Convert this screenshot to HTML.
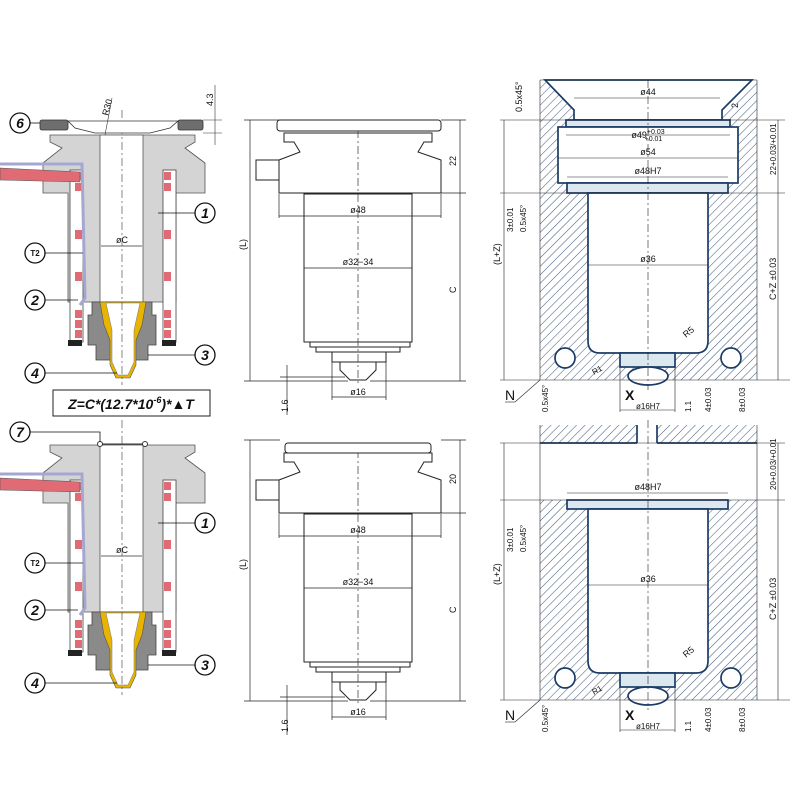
<!DOCTYPE html>
<html><head><meta charset="utf-8"><style>
html,body{margin:0;padding:0;background:#fff}
svg{display:block}
text{font-family:"Liberation Sans",sans-serif;fill:#111}
</style></head><body>
<svg width="800" height="800" viewBox="0 0 800 800" xmlns="http://www.w3.org/2000/svg">
<defs>
<pattern id="h" width="6" height="6" patternUnits="userSpaceOnUse" patternTransform="rotate(45)">
<line x1="0" y1="0" x2="0" y2="6" stroke="#4a6080" stroke-width="1.1"/>
</pattern>
<g id="Lbody">
<path d="M50,135 H195 V142 L185,148 L205,163 V193 H176 V302 H68 V193 H43 V163 L62,148 L50,142 Z" fill="#d4d4d4" stroke="#555" stroke-width="0.8"/>
<rect x="100" y="135" width="43" height="167" fill="#fff" stroke="#555" stroke-width="0.8"/>
<rect x="70" y="170" width="13" height="172" fill="#fff" stroke="#444" stroke-width="0.8"/>
<rect x="163" y="170" width="13" height="172" fill="#fff" stroke="#444" stroke-width="0.8"/>
<g fill="#e06b75">
<rect x="75" y="172" width="7" height="8"/><rect x="75" y="183" width="7" height="8"/><rect x="75" y="230" width="7" height="9"/><rect x="75" y="272" width="7" height="9"/><rect x="75" y="310" width="7" height="8"/><rect x="75" y="320" width="7" height="8"/><rect x="75" y="330" width="7" height="8"/>
<rect x="164" y="172" width="7" height="8"/><rect x="164" y="183" width="7" height="8"/><rect x="164" y="230" width="7" height="9"/><rect x="164" y="272" width="7" height="9"/><rect x="164" y="310" width="7" height="8"/><rect x="164" y="320" width="7" height="8"/><rect x="164" y="330" width="7" height="8"/>
</g>
<polygon points="0,168 80,172 80,182 0,180" fill="#e06b75" stroke="#555" stroke-width="0.6"/>
<polyline points="0,164 82,164 85,298 80,305" fill="none" stroke="#a6a6d2" stroke-width="3"/>
<path d="M92,302 H152 V315 H156 V345 H148 V360 H96 V345 H88 V315 H92 Z" fill="#8a8a8a" stroke="#444" stroke-width="0.8"/>
<rect x="68" y="340" width="14" height="6" fill="#222"/><rect x="162" y="340" width="14" height="6" fill="#222"/>
<path d="M100,302 H146 L142,325 L136,340 L136,365 L130,378 H116 L110,365 L110,340 L104,325 Z" fill="#e8b400" stroke="#555" stroke-width="0.6"/>
<path d="M106,303 H140 L134,330 V362 L128,375 H118 L112,362 V330 Z" fill="#fff" stroke="#777" stroke-width="0.5"/>
<line x1="122" y1="110" x2="122" y2="385" stroke="#555" stroke-width="0.7" stroke-dasharray="8,3,2,3"/>
<line x1="101" y1="246" x2="142" y2="246" stroke="#333" stroke-width="0.7"/>
<g fill="#fff" stroke="#111" stroke-width="1.3">
<circle cx="205" cy="213" r="10"/><circle cx="35" cy="253" r="10"/><circle cx="35" cy="300" r="10"/><circle cx="205" cy="355" r="10"/><circle cx="35" cy="373" r="10"/>
</g>
<g stroke="#111" stroke-width="0.8">
<line x1="158" y1="213" x2="195" y2="213"/><line x1="45" y1="253" x2="83" y2="253"/><line x1="45" y1="300" x2="78" y2="300"/><line x1="148" y1="355" x2="195" y2="355"/><line x1="45" y1="373" x2="117" y2="373"/>
</g>
</g>
<g id="Mbody" fill="#fff" stroke="#222" stroke-width="1">
<path d="M284,133 H432 V142 L424,142 L418,152 L441,160 V193 H279 V160 L300,152 L294,142 H284 Z"/>
<rect x="256" y="160" width="23" height="20"/>
<rect x="304" y="194" width="108" height="148"/>
<rect x="310" y="342" width="100" height="5"/>
<rect x="316" y="347" width="84" height="5"/>
<rect x="332" y="352" width="54" height="10"/>
<path d="M340,362 H376 V370 L366,380 H350 L340,370 Z"/>
<line x1="358" y1="130" x2="358" y2="385" stroke="#333" stroke-width="0.7" stroke-dasharray="8,3,2,3"/>
<g stroke-width="0.7">
<line x1="250" y1="120" x2="250" y2="381"/><line x1="244" y1="120" x2="280" y2="120"/><line x1="244" y1="381" x2="348" y2="381"/>
<line x1="460" y1="120" x2="460" y2="381"/><line x1="441" y1="120" x2="466" y2="120"/><line x1="441" y1="193" x2="466" y2="193"/><line x1="370" y1="381" x2="466" y2="381"/>
<line x1="279" y1="194" x2="279" y2="218"/><line x1="441" y1="194" x2="441" y2="218"/>
<line x1="279" y1="216" x2="441" y2="216"/><line x1="304" y1="268" x2="412" y2="268"/>
<line x1="332" y1="362" x2="332" y2="400"/><line x1="386" y1="362" x2="386" y2="400"/><line x1="332" y1="397" x2="386" y2="397"/>
<line x1="287" y1="365" x2="287" y2="415"/><line x1="280" y1="377" x2="345" y2="377"/>
</g>
</g>
</defs>

<!-- LEFT TOP -->
<use href="#Lbody"/>
<rect x="40" y="120" width="28" height="10" rx="2" fill="#6e6e6e" stroke="#333" stroke-width="0.8"/>
<rect x="178" y="120" width="25" height="10" rx="2" fill="#6e6e6e" stroke="#333" stroke-width="0.8"/>
<path d="M68,121 H178 L170,128 L150,133 H95 L75,128 Z" fill="#fff" stroke="#333" stroke-width="0.8"/>
<circle cx="20" cy="123" r="10" fill="#fff" stroke="#111" stroke-width="1.3"/>
<line x1="30" y1="123" x2="40" y2="123" stroke="#111" stroke-width="0.8"/>
<line x1="105" y1="135" x2="112" y2="98" stroke="#333" stroke-width="0.6"/>
<text x="108" y="116" font-size="9" transform="rotate(-75 108 116)">R30</text>
<line x1="203" y1="120" x2="222" y2="120" stroke="#333" stroke-width="0.6"/>
<line x1="203" y1="133" x2="222" y2="133" stroke="#333" stroke-width="0.6"/>
<line x1="215" y1="85" x2="215" y2="145" stroke="#333" stroke-width="0.6"/>
<text x="213" y="106" font-size="9" transform="rotate(-90 213 106)">4.3</text>
<text x="20" y="128" font-size="14" font-weight="bold" font-style="italic" text-anchor="middle">6</text>
<text x="205" y="218" font-size="14" font-weight="bold" font-style="italic" text-anchor="middle">1</text>
<text x="35" y="256" font-size="8" font-weight="bold" text-anchor="middle">T2</text>
<text x="35" y="305" font-size="14" font-weight="bold" font-style="italic" text-anchor="middle">2</text>
<text x="205" y="360" font-size="14" font-weight="bold" font-style="italic" text-anchor="middle">3</text>
<text x="35" y="378" font-size="14" font-weight="bold" font-style="italic" text-anchor="middle">4</text>
<text x="122" y="243" font-size="9" text-anchor="middle">øC</text>
<rect x="53" y="390" width="157" height="26" fill="#fff" stroke="#222" stroke-width="1"/>
<text x="131" y="409" font-size="14" font-weight="bold" font-style="italic" text-anchor="middle">Z=C*(12.7*10<tspan font-size="9" dy="-6">-6</tspan><tspan dy="6">)*▲T</tspan></text>

<!-- LEFT BOTTOM -->
<g transform="translate(0,310)"><use href="#Lbody"/></g>
<line x1="100" y1="444" x2="145" y2="444" stroke="#333" stroke-width="1"/>
<circle cx="100" cy="444" r="2.5" fill="#fff" stroke="#333"/><circle cx="145" cy="444" r="2.5" fill="#fff" stroke="#333"/>
<circle cx="20" cy="432" r="10" fill="#fff" stroke="#111" stroke-width="1.3"/>
<polyline points="30,432 100,432 100,442" fill="none" stroke="#111" stroke-width="0.8"/>
<text x="20" y="437" font-size="14" font-weight="bold" font-style="italic" text-anchor="middle">7</text>
<text x="205" y="528" font-size="14" font-weight="bold" font-style="italic" text-anchor="middle">1</text>
<text x="35" y="566" font-size="8" font-weight="bold" text-anchor="middle">T2</text>
<text x="35" y="615" font-size="14" font-weight="bold" font-style="italic" text-anchor="middle">2</text>
<text x="205" y="670" font-size="14" font-weight="bold" font-style="italic" text-anchor="middle">3</text>
<text x="35" y="688" font-size="14" font-weight="bold" font-style="italic" text-anchor="middle">4</text>
<text x="122" y="553" font-size="9" text-anchor="middle">øC</text>

<!-- MIDDLE TOP -->
<use href="#Mbody"/>
<rect x="277" y="120" width="164" height="11" rx="3" fill="#fff" stroke="#222"/>
<text x="246" y="250" font-size="9" transform="rotate(-90 246 250)">(L)</text>
<text x="456" y="166" font-size="9" transform="rotate(-90 456 166)">22</text>
<text x="456" y="293" font-size="9" transform="rotate(-90 456 293)">C</text>
<text x="358" y="213" font-size="9" text-anchor="middle">ø48</text>
<text x="358" y="265" font-size="9" text-anchor="middle">ø32−34</text>
<text x="358" y="395" font-size="9" text-anchor="middle">ø16</text>
<text x="288" y="412" font-size="9" transform="rotate(-90 288 412)">1.6</text>

<!-- MIDDLE BOTTOM -->
<g transform="translate(0,320)"><use href="#Mbody"/></g>
<rect x="285" y="443" width="146" height="10" rx="3" fill="#fff" stroke="#222"/>
<text x="246" y="570" font-size="9" transform="rotate(-90 246 570)">(L)</text>
<text x="456" y="484" font-size="9" transform="rotate(-90 456 484)">20</text>
<text x="456" y="613" font-size="9" transform="rotate(-90 456 613)">C</text>
<text x="358" y="533" font-size="9" text-anchor="middle">ø48</text>
<text x="358" y="585" font-size="9" text-anchor="middle">ø32−34</text>
<text x="358" y="715" font-size="9" text-anchor="middle">ø16</text>
<text x="288" y="732" font-size="9" transform="rotate(-90 288 732)">1.6</text>

<!-- RIGHT TOP -->
<g stroke="#1a3c66" stroke-width="1.7">
<rect x="540" y="80" width="217" height="300" fill="url(#h)" stroke="none"/>
<path d="M545,80 H752 L722,110 V120 H574 V110 Z" fill="#fff"/>
<rect x="566" y="120" width="164" height="7" fill="#dde7f0"/>
<rect x="558" y="127" width="180" height="56" fill="#fff"/>
<rect x="567" y="183" width="161" height="10" fill="#dde7f0"/>
<path d="M588,193 H708 V341 Q708,353 696,353 H600 Q588,353 588,341 Z" fill="#fff"/>
<rect x="620" y="353" width="55" height="14" fill="#dde7f0"/>
<ellipse cx="648" cy="376" rx="20" ry="9" fill="#fff"/>
<circle cx="565" cy="358" r="10" fill="#fff"/><circle cx="731" cy="358" r="10" fill="#fff"/>
</g>
<g stroke="#222" stroke-width="0.6">
<line x1="540" y1="80" x2="540" y2="380"/><line x1="757" y1="80" x2="757" y2="380"/><line x1="540" y1="80" x2="757" y2="80"/>
<line x1="500" y1="120" x2="785" y2="120"/><line x1="500" y1="193" x2="785" y2="193"/><line x1="500" y1="380" x2="790" y2="380"/>
<line x1="504" y1="120" x2="504" y2="380"/><line x1="778" y1="120" x2="778" y2="380"/>
<line x1="574" y1="98" x2="720" y2="98"/><line x1="566" y1="135" x2="730" y2="135"/><line x1="558" y1="158" x2="738" y2="158"/><line x1="567" y1="177" x2="728" y2="177"/><line x1="588" y1="265" x2="708" y2="265"/>
<line x1="648" y1="80" x2="648" y2="390" stroke-dasharray="8,3,2,3"/>
<line x1="620" y1="367" x2="620" y2="412"/><line x1="675" y1="367" x2="675" y2="412"/><line x1="620" y1="410" x2="675" y2="410"/>
<line x1="540" y1="380" x2="515" y2="402"/><line x1="505" y1="402" x2="515" y2="402"/>
</g>
<g font-size="9">
<text x="522" y="112" transform="rotate(-90 522 112)">0.5x45°</text>
<text x="738" y="108" transform="rotate(-90 738 108)">2</text>
<text x="648" y="95" text-anchor="middle">ø44</text>
<text x="648" y="138" text-anchor="middle">ø49<tspan font-size="7" dy="-4">+0.03</tspan><tspan font-size="7" dx="-20" dy="7">+0.01</tspan></text>
<text x="648" y="155" text-anchor="middle">ø54</text>
<text x="648" y="174" text-anchor="middle">ø48H7</text>
<text x="648" y="262" text-anchor="middle">ø36</text>
<text x="776" y="175" font-size="8" transform="rotate(-90 776 175)">22+0.03/+0.01</text>
<text x="776" y="300" transform="rotate(-90 776 300)">C+Z ±0.03</text>
<text x="500" y="265" transform="rotate(-90 500 265)">(L+Z)</text>
<text x="513" y="232" font-size="8" transform="rotate(-90 513 232)">3±0.01</text>
<text x="526" y="232" font-size="8" transform="rotate(-90 526 232)">0.5x45°</text>
<text x="548" y="412" font-size="8" transform="rotate(-90 548 412)">0.5x45°</text>
<text x="686" y="338" transform="rotate(-40 686 338)">R5</text>
<text x="594" y="375" font-size="8" transform="rotate(-30 594 375)">R1</text>
<text x="691" y="412" font-size="8" transform="rotate(-90 691 412)">1.1</text>
<text x="711" y="412" font-size="8" transform="rotate(-90 711 412)">4±0.03</text>
<text x="745" y="412" font-size="8" transform="rotate(-90 745 412)">8±0.03</text>
<text x="625" y="400" font-size="14" font-weight="bold">X</text>
<text x="648" y="409" font-size="8" text-anchor="middle">ø16H7</text>
<text x="505" y="400" font-size="14">N</text>
</g>

<!-- RIGHT BOTTOM -->
<g stroke="#1a3c66" stroke-width="1.7">
<rect x="540" y="425" width="97" height="18" fill="url(#h)" stroke="none"/>
<rect x="657" y="425" width="100" height="18" fill="url(#h)" stroke="none"/>
<line x1="540" y1="443" x2="637" y2="443"/><line x1="657" y1="443" x2="757" y2="443"/>
<line x1="637" y1="425" x2="637" y2="443"/><line x1="657" y1="425" x2="657" y2="443"/>
<rect x="540" y="500" width="217" height="200" fill="url(#h)" stroke="none"/>
<rect x="567" y="500" width="161" height="9" fill="#dde7f0"/>
<path d="M588,509 H708 V661 Q708,673 696,673 H600 Q588,673 588,661 Z" fill="#fff"/>
<rect x="620" y="673" width="55" height="14" fill="#dde7f0"/>
<ellipse cx="648" cy="696" rx="20" ry="9" fill="#fff"/>
<circle cx="565" cy="678" r="10" fill="#fff"/><circle cx="731" cy="678" r="10" fill="#fff"/>
</g>
<g stroke="#222" stroke-width="0.6">
<line x1="540" y1="425" x2="540" y2="700"/><line x1="757" y1="425" x2="757" y2="700"/>
<line x1="500" y1="443" x2="785" y2="443"/><line x1="500" y1="500" x2="785" y2="500"/><line x1="500" y1="700" x2="790" y2="700"/>
<line x1="504" y1="443" x2="504" y2="700"/><line x1="778" y1="443" x2="778" y2="700"/>
<line x1="567" y1="493" x2="728" y2="493"/><line x1="588" y1="585" x2="708" y2="585"/>
<line x1="648" y1="420" x2="648" y2="710" stroke-dasharray="8,3,2,3"/>
<line x1="620" y1="687" x2="620" y2="732"/><line x1="675" y1="687" x2="675" y2="732"/><line x1="620" y1="730" x2="675" y2="730"/>
<line x1="540" y1="700" x2="515" y2="722"/><line x1="505" y1="722" x2="515" y2="722"/>
</g>
<g font-size="9">
<text x="648" y="490" text-anchor="middle">ø48H7</text>
<text x="648" y="582" text-anchor="middle">ø36</text>
<text x="776" y="490" font-size="8" transform="rotate(-90 776 490)">20+0.03/+0.01</text>
<text x="776" y="620" transform="rotate(-90 776 620)">C+Z ±0.03</text>
<text x="500" y="585" transform="rotate(-90 500 585)">(L+Z)</text>
<text x="513" y="552" font-size="8" transform="rotate(-90 513 552)">3±0.01</text>
<text x="526" y="552" font-size="8" transform="rotate(-90 526 552)">0.5x45°</text>
<text x="548" y="732" font-size="8" transform="rotate(-90 548 732)">0.5x45°</text>
<text x="686" y="658" transform="rotate(-40 686 658)">R5</text>
<text x="594" y="695" font-size="8" transform="rotate(-30 594 695)">R1</text>
<text x="691" y="732" font-size="8" transform="rotate(-90 691 732)">1.1</text>
<text x="711" y="732" font-size="8" transform="rotate(-90 711 732)">4±0.03</text>
<text x="745" y="732" font-size="8" transform="rotate(-90 745 732)">8±0.03</text>
<text x="625" y="720" font-size="14" font-weight="bold">X</text>
<text x="648" y="729" font-size="8" text-anchor="middle">ø16H7</text>
<text x="505" y="720" font-size="14">N</text>
</g>
</svg>
</body></html>
